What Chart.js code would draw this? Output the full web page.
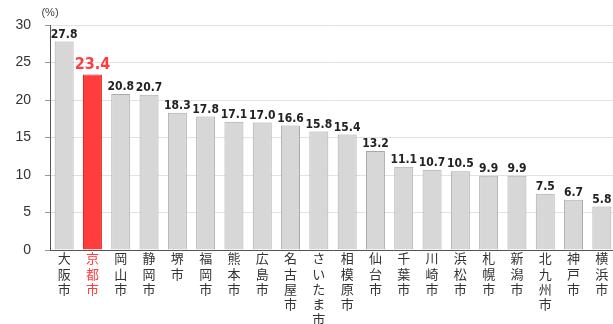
<!DOCTYPE html>
<html>
<head>
<meta charset="utf-8">
<script src="https://cdn.jsdelivr.net/npm/chart.js@4.4.1/dist/chart.umd.min.js"></script>
<style>
  html, body { margin: 0; padding: 0; background: #fff; overflow: hidden; }
  #wrap { position: relative; width: 618px; height: 324px; }
</style>
</head>
<body>
<div id="wrap"><canvas id="rateChart" width="618" height="324"></canvas></div>
<script>
// --- Data ---
const cities = ['大阪市', '京都市', '岡山市', '静岡市', '堺市', '福岡市', '熊本市', '広島市', '名古屋市', 'さいたま市',
                '相模原市', '仙台市', '千葉市', '川崎市', '浜松市', '札幌市', '新潟市', '北九州市', '神戸市', '横浜市'];
const rates = [27.8, 23.4, 20.8, 20.7, 18.3, 17.8, 17.1, 17.0, 16.6, 15.8,
               15.4, 13.2, 11.1, 10.7, 10.5, 9.9, 9.9, 7.5, 6.7, 5.8];
const highlightCity = '京都市';
const yTicks = [0, 5, 10, 15, 20, 25, 30];
const unitLabel = '(%)';

const GRAY = '#d7d7d7';
const GRAY_EDGE = '#a9a9a9';
const RED = '#ff3d3d';
const RED_EDGE = '#e02020';

const isHi = (i) => cities[i] === highlightCity;

// vertical labels: one character per line
const verticalLabels = cities.map(c => Array.from(c));

// value labels above each bar + unit label
const valueLabels = {
  id: 'valueLabels',
  afterDatasetsDraw(chart) {
    const ctx = chart.ctx;
    const meta = chart.getDatasetMeta(0);
    ctx.save();
    ctx.textAlign = 'center';
    ctx.textBaseline = 'alphabetic';
    meta.data.forEach((bar, i) => {
      const v = rates[i].toFixed(1);
      if (isHi(i)) {
        ctx.fillStyle = RED;
        ctx.font = 'bold 16px "DejaVu Sans Condensed", "Liberation Sans", sans-serif';
        ctx.fillText(v, bar.x, bar.y - 6);
      } else {
        ctx.fillStyle = '#222';
        ctx.font = 'bold 12px "DejaVu Sans Condensed", "Liberation Sans", sans-serif';
        ctx.fillText(v, bar.x, bar.y - 4);
      }
    });
    ctx.fillStyle = '#444';
    ctx.font = '11px "Liberation Sans", sans-serif';
    ctx.fillText(unitLabel, 50, 16);
    ctx.restore();
  }
};

new Chart(document.getElementById('rateChart').getContext('2d'), {
  type: 'bar',
  data: {
    labels: verticalLabels,
    datasets: [{
      data: rates,
      backgroundColor: rates.map((_, i) => isHi(i) ? RED : GRAY),
      borderColor: rates.map((_, i) => isHi(i) ? RED_EDGE : GRAY_EDGE),
      borderWidth: 1,
      categoryPercentage: 1,
      barPercentage: 0.67
    }]
  },
  options: {
    responsive: false,
    animation: false,
    layout: { padding: { top: 25, right: 2, left: 0, bottom: 0 } },
    plugins: { legend: { display: false }, tooltip: { enabled: false } },
    scales: {
      x: {
        grid: { display: false, drawTicks: false },
        border: { color: '#555', width: 1 },
        ticks: {
          autoSkip: false,
          maxRotation: 0,
          padding: 1,
          color: (c) => isHi(c.index) ? RED : '#333',
          font: { family: '"Noto Sans CJK JP", sans-serif', size: 13, lineHeight: 1.16 }
        },
        afterFit(scale) { scale.height = 74; }
      },
      y: {
        min: 0,
        max: 30,
        afterBuildTicks(scale) { scale.ticks = yTicks.map(v => ({ value: v })); },
        grid: { color: '#e2e2e2', tickLength: 5, tickColor: '#999' },
        border: { color: '#555', width: 1 },
        ticks: {
          padding: 14,
          color: '#333',
          font: { family: '"Liberation Sans", sans-serif', size: 14 }
        },
        afterFit(scale) { scale.width = 50; }
      }
    }
  },
  plugins: [valueLabels]
});
</script>
</body>
</html>
